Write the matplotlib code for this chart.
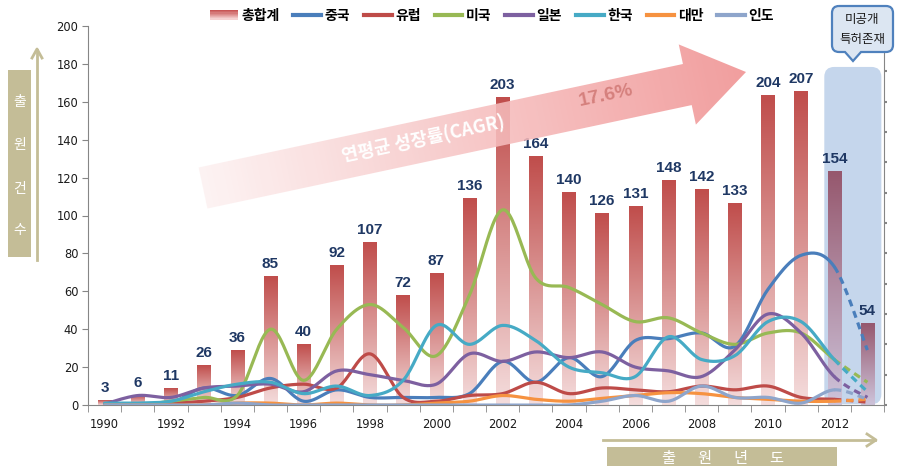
import numpy as np
import matplotlib
matplotlib.use('Agg')
import matplotlib.pyplot as plt
from matplotlib.patches import FancyBboxPatch, Polygon, PathPatch, Rectangle, Patch
from matplotlib.path import Path
from matplotlib.lines import Line2D

# ---------------- data ----------------
years = list(range(1990, 2014))
year_labels = [str(y) for y in range(1990, 2013, 2)]
totals = [3, 6, 11, 26, 36, 85, 40, 92, 107, 72, 87, 136, 203, 164, 140, 126, 131, 148, 142, 133, 204, 207, 154, 54]
china  = [0, 0, 1, 9, 5, 14, 2, 8, 4, 4, 4, 6, 23, 12, 25, 15, 34, 35, 38, 31, 61, 79, 73, 29]
europe = [0, 0, 1, 2, 4, 9, 11, 9, 27, 4, 2, 5, 6, 12, 6, 9, 8, 7, 10, 8, 10, 4, 3, 1.5]
usa    = [0, 0, 2, 4, 5, 40, 13, 40, 53, 41, 26, 58, 103, 67, 62, 53, 44, 46, 38, 32, 38, 38, 24, 12]
japan  = [0.5, 5, 4, 9, 10, 11, 7, 18, 16, 13, 11, 27, 23, 28, 25, 28, 20, 18, 15, 29, 48, 38, 15, 4]
korea  = [1, 1, 2, 7, 11, 12, 6, 10, 5, 13, 42, 32, 42, 34, 20, 17, 15, 36, 24, 26, 44, 44, 24, 7]
taiwan = [0, 0, 0, 0, 1, 1, 0, 1, 0, 0, 1, 2, 5, 3, 2, 3.5, 5, 6.5, 6, 4, 3, 2, 2, 3]
india  = [0, 0, 0, 0, 1, 0, 0, 0, 0, 0, 0, 0, 0, 0, 0, 2, 5, 2, 10, 4, 4, 1, 8, 3]

series_names = ['중국', '유럽', '미국', '일본', '한국', '대만', '인도']
series_vals = [china, europe, usa, japan, korea, taiwan, india]
series_colors = ['#4A7EBB', '#BE4B48', '#98B954', '#7D60A0', '#46AAC5', '#F69240', '#8EA5CB']

KR = ['Noto Sans CJK KR', 'DejaVu Sans']
plt.rcParams['font.family'] = KR

W, H = 897, 466
fig = plt.figure(figsize=(W / 100, H / 100), dpi=100)
fig.patch.set_facecolor('white')

# ---------------- main axes ----------------
L, R, B, T = 88, 884, 405, 26
ax_b = fig.add_axes([L / W, 1 - B / H, (R - L) / W, (B - T) / H])
ax_l = ax_b.twinx()
ax_b.yaxis.tick_right()
ax_l.yaxis.tick_left()

x = np.arange(len(years))
ax_b.set_xlim(-0.5, len(years) - 0.5)
ax_b.set_ylim(0, 250)
ax_l.set_ylim(0, 200)

# shaded "unpublished" region
reg = FancyBboxPatch((21.70, 0.5), 23.42 - 21.70, 222.5,
                     boxstyle='round,pad=0,rounding_size=0.3', mutation_aspect=21.85,
                     facecolor='#C5D6EC', edgecolor='none', zorder=1.5)
ax_b.add_patch(reg)

# bars with gradient
bars = ax_b.bar(x, totals, width=0.4, color='none', edgecolor='none', zorder=2)
n = 64
for i, rect in enumerate(bars):
    x0 = rect.get_x(); w = rect.get_width(); h = rect.get_height()
    if i >= len(years) - 2:
        top = np.array([150, 88, 110]) / 255; bot = np.array([205, 195, 218]) / 255
    else:
        top = np.array([192, 78, 76]) / 255; bot = np.array([244, 220, 220]) / 255
    f = np.linspace(0, 1, n)[:, None]
    grad = (top * (1 - f) + bot * f)[:, None, :]
    ax_b.imshow(grad, extent=[x0, x0 + w, 0, h], aspect='auto', origin='upper',
                zorder=2, interpolation='bilinear')
    ax_b.annotate(str(totals[i]), (x0 + w / 2, h), xytext=(0, 4), textcoords='offset points',
                  ha='center', va='bottom', fontsize=11, fontweight='bold',
                  color='#1F3864', family=['Liberation Sans', 'DejaVu Sans'], zorder=5)
ax_b.set_xlim(-0.5, len(years) - 0.5)
ax_b.set_ylim(0, 250)


# smooth lines (Excel-like Bezier through data points)
def smooth_segments(xs, ys, m=24):
    P = np.column_stack([np.asarray(xs, float), np.asarray(ys, float)])
    Pe = np.vstack([P[0], P, P[-1]])
    segs = []
    t = np.linspace(0, 1, m)[:, None]
    for k in range(len(P) - 1):
        p0, p1, p2, p3 = Pe[k], Pe[k + 1], Pe[k + 2], Pe[k + 3]
        c1 = p1 + (p2 - p0) / 6
        c2 = p2 - (p3 - p1) / 6
        segs.append((1 - t) ** 3 * p1 + 3 * (1 - t) ** 2 * t * c1 + 3 * (1 - t) * t ** 2 * c2 + t ** 3 * p2)
    return segs

for vals, col in zip(series_vals, series_colors):
    segs = smooth_segments(x, vals)
    solid = np.vstack(segs[:-1])
    ax_l.plot(solid[:, 0], solid[:, 1], color=col, lw=2.3, zorder=3, solid_capstyle='round')
    d = segs[-1]
    ax_l.plot(d[:, 0], d[:, 1], color=col, lw=2.3, zorder=3, linestyle=(0, (2.2, 1.6)))

# axes styling
grey = '#868686'
for sp in ['top']:
    ax_b.spines[sp].set_visible(False); ax_l.spines[sp].set_visible(False)
for sp in ['left', 'right']:
    ax_b.spines[sp].set_visible(False)
ax_l.spines['bottom'].set_visible(False)
ax_b.spines['bottom'].set_color(grey)
ax_l.spines['left'].set_color(grey)
ax_l.spines['right'].set_color(grey)

ax_l.set_yticks(range(0, 201, 20))
ax_l.tick_params(axis='y', which='both', length=4, color=grey, pad=3, labelsize=8.3,
                 labelcolor='#1a1a1a')
for lab in ax_l.get_yticklabels():
    lab.set_family('DejaVu Sans')

ax_b.set_yticks(range(0, 241, 20))
ax_b.set_yticklabels([])
ax_b.tick_params(axis='y', which='both', length=2, color=grey, width=1.5)

ax_b.set_xticks(list(range(0, 23, 2)))
ax_b.set_xticklabels(year_labels)
ax_b.set_xticks(np.arange(-0.5, len(years), 1.0), minor=True)
ax_b.tick_params(axis='x', which='major', length=0, pad=9, labelsize=8.3, labelcolor='#1a1a1a')
ax_b.tick_params(axis='x', which='minor', length=5, color=grey)
for lab in ax_b.get_xticklabels():
    lab.set_family('DejaVu Sans')


# legend
class GradHandler:
    def legend_artist(self, legend, orig_handle, fontsize, handlebox):
        x0, y0 = handlebox.xdescent, handlebox.ydescent
        w, h = handlebox.width, handlebox.height
        top = np.array([200, 85, 85]) / 255; bot = np.array([245, 210, 210]) / 255
        k = 8
        r = None
        for j in range(k):
            f = j / (k - 1)
            col = top * (1 - f) + bot * f
            r = Rectangle((-x0, -y0 + h * (1 - (j + 1) / k)), w, h / k + 0.3,
                          facecolor=col, edgecolor='none', transform=handlebox.get_transform())
            handlebox.add_artist(r)
        return r

tot_handle = Patch(facecolor='#D88E8C')
handles = [tot_handle] + [Line2D([], [], color=c, lw=3) for c in series_colors]
labels = ['총합계'] + series_names
fig.legend(handles, labels, ncol=8, loc='center', bbox_to_anchor=(492 / W, 1 - 16 / H),
           frameon=False, handlelength=2.0, handleheight=0.6, handletextpad=0.25,
           columnspacing=1.0, prop={'family': KR, 'weight': 'bold', 'size': 10},
           handler_map={Patch: GradHandler()})

# ---------------- overlay annotations (pixel coords) ----------------
ov = fig.add_axes([0, 0, 1, 1])
ov.set_zorder(5)
ov.set_xlim(0, W); ov.set_ylim(H, 0); ov.axis('off')

# big growth arrow (semi-transparent, above chart)
Tt = np.array([203.0, 188.0]); Pt = np.array([746.0, 72.0])
Ln = np.linalg.norm(Pt - Tt); u = (Pt - Tt) / Ln; nrm = np.array([-u[1], u[0]])
sw, hw, hl = 21, 41, 60
Bb = Pt - hl * u
poly = [Tt - sw * nrm, Bb - sw * nrm, Bb - hw * nrm, Pt, Bb + hw * nrm, Bb + sw * nrm, Tt + sw * nrm]
arrow_patch = Polygon(poly, closed=True, facecolor='none', edgecolor='none', transform=ov.transData)
ov.add_patch(arrow_patch)
gx0, gx1, gy0, gy1 = 170, 780, 10, 240
GX, GY = np.meshgrid(np.linspace(gx0, gx1, 300), np.linspace(gy0, gy1, 120))
s = ((GX - Tt[0]) * u[0] + (GY - Tt[1]) * u[1]) / Ln
s = np.clip(s, 0, 1)[..., None]
c0 = np.array([253, 242, 242]) / 255; c1 = np.array([240, 145, 145]) / 255
img = c0 * (1 - s) + c1 * s
im = ov.imshow(img, extent=[gx0, gx1, gy1, gy0], origin='upper', aspect='auto', zorder=2,
               interpolation='bilinear', alpha=0.88)
im.set_clip_path(arrow_patch)
ov.set_xlim(0, W); ov.set_ylim(H, 0)
ang = np.degrees(np.arctan2(-u[1], u[0]))
ov.text(423, 139, '연평균 성장률(CAGR)', rotation=ang, rotation_mode='anchor', ha='center',
        va='center', color='white', fontsize=13, fontweight='bold', family=KR, zorder=3)
ov.text(606, 96, '17.6%', rotation=ang, rotation_mode='anchor', ha='center', va='center',
        color='#D5807D', fontsize=14, fontweight='bold', family=['Liberation Sans', 'DejaVu Sans'],
        zorder=3)

# y axis title box + arrow
tan = '#C4BD97'
ov.add_patch(Rectangle((8, 70), 23, 187, facecolor=tan, edgecolor='none', zorder=4))
for ch, yy in zip(['출', '원', '건', '수'], [102, 145, 189, 230]):
    ov.text(19.5, yy, ch, ha='center', va='center', color='white', fontsize=10, family=KR, zorder=5)
ov.plot([37, 37], [260, 50], color=tan, lw=2, zorder=4)
ov.plot([32, 37, 42], [58, 49, 58], color=tan, lw=2, zorder=4)

# x axis title box + arrow
ov.add_patch(Rectangle((607, 447), 230, 22, facecolor=tan, edgecolor='none', zorder=4))
for ch, xx in zip(['출', '원', '년', '도'], [668, 704, 740, 776]):
    ov.text(xx, 458, ch, ha='center', va='center', color='white', fontsize=11,
            family=KR, zorder=5)
ov.plot([603, 875], [440, 440], color=tan, lw=2, zorder=4)
ov.plot([867, 876, 867], [434, 440, 446], color=tan, lw=2, zorder=4)

# callout
bx0, bx1, by0, by1, r = 832, 893, 6, 52, 7
tipx, tipy, b0, b1 = 853, 61, 845, 861
verts = [(bx0 + r, by0), (bx1 - r, by0), (bx1, by0), (bx1, by0 + r), (bx1, by1 - r), (bx1, by1),
         (bx1 - r, by1), (b1, by1), (tipx, tipy), (b0, by1), (bx0 + r, by1), (bx0, by1),
         (bx0, by1 - r), (bx0, by0 + r), (bx0, by0), (bx0 + r, by0)]
codes = [Path.MOVETO, Path.LINETO, Path.CURVE3, Path.CURVE3, Path.LINETO, Path.CURVE3, Path.CURVE3,
         Path.LINETO, Path.LINETO, Path.LINETO, Path.LINETO, Path.CURVE3, Path.CURVE3, Path.LINETO,
         Path.CURVE3, Path.CURVE3]
ov.add_patch(PathPatch(Path(verts, codes), facecolor='#DCE6F2', edgecolor='#4F81BD', lw=1.6,
                       zorder=6))
ov.text(862.5, 20, '미공개', ha='center', va='center', fontsize=9, color='#1a1a1a', family=KR, zorder=7)
ov.text(862.5, 40, '특허존재', ha='center', va='center', fontsize=9, color='#1a1a1a', family=KR, zorder=7)

fig.savefig('out.png', dpi=100)
